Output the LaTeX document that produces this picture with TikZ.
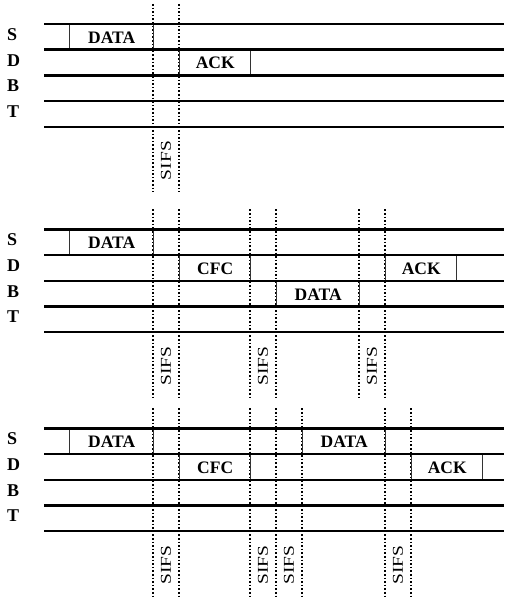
\documentclass[tikz,border=0pt]{standalone}
\usepackage{fontspec}
\setmainfont{Liberation Serif}

\begin{document}
\begin{tikzpicture}[x=1pt,y=-1pt,
  lane/.style={line width=2.4pt,color=black},
  slot/.style={line width=1.7pt,dash pattern=on 1.7pt off 1.9pt},
  pkt/.style={rectangle,draw=black!80,line width=1.4pt,anchor=north west,
              inner sep=0pt,minimum height=25.7pt,
              font=\fontsize{17.5}{17.5}\selectfont\bfseries},
  who/.style={anchor=west,inner sep=0pt,font=\fontsize{18}{18}\selectfont\bfseries},
  gap/.style={rotate=90,inner sep=0pt,font=\fontsize{15}{15}\selectfont}
]
  \useasboundingbox (0,0) rectangle (504,599);

  % SIFS slots
  \foreach \x in {153,179}
    \draw[slot] (\x,4) -- (\x,192);
  \foreach \x in {153,179,250,276,359,385}
    \draw[slot] (\x,209.3) -- (\x,397.3);
  \foreach \x in {153,179,250,276,302,385,411}
    \draw[slot] (\x,408.3) -- (\x,596.3);

  % first exchange
  \node[pkt,minimum width=84pt] (data1) at (69,24) {DATA};
  \node[pkt,minimum width=71pt] (ack1) at (179,49.7) {ACK};
  \node[gap] (sifs1a) at (166,160.5) {\scalebox{1.3}[1]{SIFS}};

  % second exchange
  \node[pkt,minimum width=84pt] (data2) at (69,229.3) {DATA};
  \node[pkt,minimum width=71pt] (cfc2) at (179,255) {CFC};
  \node[pkt,minimum width=83pt] (datab2) at (276,280.7) {DATA};
  \node[pkt,minimum width=71pt] (ack2) at (385,255) {ACK};
  \node[gap] (sifs2a) at (166,366.3) {\scalebox{1.3}[1]{SIFS}};
  \node[gap] (sifs2b) at (263,366.3) {\scalebox{1.3}[1]{SIFS}};
  \node[gap] (sifs2c) at (372,366.3) {\scalebox{1.3}[1]{SIFS}};

  % third exchange
  \node[pkt,minimum width=84pt] (data3) at (69,428.3) {DATA};
  \node[pkt,minimum width=71pt] (cfc3) at (179,454) {CFC};
  \node[pkt,minimum width=83pt] (datas3) at (302,428.3) {DATA};
  \node[pkt,minimum width=71pt] (ack3) at (411,454) {ACK};
  \node[gap] (sifs3a) at (166,565.3) {\scalebox{1.3}[1]{SIFS}};
  \node[gap] (sifs3b) at (263,565.3) {\scalebox{1.3}[1]{SIFS}};
  \node[gap] (sifs3c) at (289,565.3) {\scalebox{1.3}[1]{SIFS}};
  \node[gap] (sifs3d) at (398,565.3) {\scalebox{1.3}[1]{SIFS}};

  % stations and their lanes
  \foreach \t/\n in {24/1,229.3/2,428.3/3}{
    \foreach \k in {0,...,4}
      \draw[lane] (44,\t+\k*25.7) -- (504,\t+\k*25.7);
    \node[who] (s\n) at (7,\t+10.5) {S};
    \node[who] (d\n) at (7,\t+36.2) {D};
    \node[who] (b\n) at (7,\t+61.9) {B};
    \node[who] (t\n) at (7,\t+87.6) {T};
  }
\end{tikzpicture}
\end{document}
